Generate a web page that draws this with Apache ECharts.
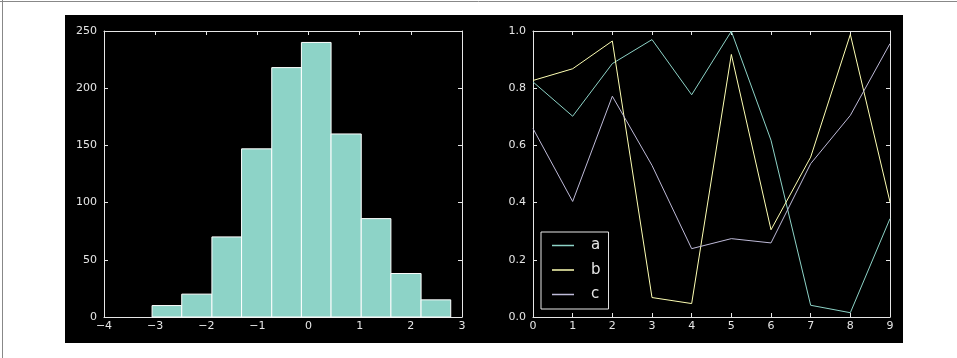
<!DOCTYPE html>
<html>
<head>
<meta charset="utf-8">
<script src="https://cdn.jsdelivr.net/npm/echarts@6/dist/echarts.min.js"></script>
<style>
html,body{margin:0;padding:0;background:#fff;}
#c{width:957px;height:358px;}
</style>
</head>
<body>
<div id="c"></div>
<script>
// Histogram data
var binEdges = [-3.06, -2.48, -1.89, -1.31, -0.72, -0.14, 0.44, 1.03, 1.61, 2.20, 2.78];
var binCounts = [10, 20, 70, 147, 218, 240, 160, 86, 38, 15];

// Line data
var lineX = [0, 1, 2, 3, 4, 5, 6, 7, 8, 9];
var seriesA = [0.822, 0.702, 0.886, 0.970, 0.777, 0.999, 0.618, 0.041, 0.015, 0.344];
var seriesB = [0.827, 0.868, 0.965, 0.068, 0.047, 0.918, 0.305, 0.559, 0.988, 0.402];
var seriesC = [0.659, 0.404, 0.772, 0.530, 0.239, 0.274, 0.259, 0.536, 0.705, 0.956];
var seriesNames = ['a', 'b', 'c'];

var FG = '#e6e6e6';
var FONT = 'DejaVu Sans';
function minus(v){ return String(v).replace('-', '\u2212'); }

var histData = binCounts.map(function(c, i){ return [binEdges[i], binEdges[i+1], c]; });
function pairs(arr){ return arr.map(function(v, i){ return [lineX[i], v]; }); }

function mkX(gi, pos, show, min, max, interval, fmt){
  return {
    type: 'value', gridIndex: gi, position: pos, min: min, max: max, interval: interval,
    axisLine: {show: true, onZero: false, lineStyle: {color: FG, width: 1}},
    axisTick: {show: true, inside: true, length: 4, lineStyle: {color: FG}},
    axisLabel: {show: show, color: FG, fontFamily: FONT, fontSize: 11, margin: 4, formatter: fmt},
    splitLine: {show: false}
  };
}
function mkY(gi, pos, show, min, max, interval, fmt){
  return {
    type: 'value', gridIndex: gi, position: pos, min: min, max: max, interval: interval,
    axisLine: {show: true, onZero: false, lineStyle: {color: FG, width: 1}},
    axisTick: {show: true, inside: true, length: 4, lineStyle: {color: FG}},
    axisLabel: {show: show, color: FG, fontFamily: FONT, fontSize: 11, margin: 7, formatter: fmt},
    splitLine: {show: false}
  };
}

var chart = echarts.init(document.getElementById('c'), null, {renderer: 'canvas'});
var option = {
  backgroundColor: '#ffffff',
  animation: false,
  graphic: [
    {type: 'rect', z: -100, silent: true, shape: {x: 65, y: 15, width: 838, height: 328}, style: {fill: '#000'}},
    {type: 'line', z: -100, silent: true, shape: {x1: 0, y1: 1.5, x2: 957, y2: 1.5}, style: {stroke: '#888', lineWidth: 1}},
    {type: 'line', z: -100, silent: true, shape: {x1: 2.5, y1: 0, x2: 2.5, y2: 358}, style: {stroke: '#888', lineWidth: 1}}
  ],
  grid: [
    {left: 104, top: 31, width: 358, height: 286},
    {left: 533, top: 31, width: 357, height: 286}
  ],
  xAxis: [
    mkX(0, 'bottom', true, -4, 3, 1, function(v){ return minus(v); }),
    mkX(0, 'top', false, -4, 3, 1),
    mkX(1, 'bottom', true, 0, 9, 1, function(v){ return String(v); }),
    mkX(1, 'top', false, 0, 9, 1)
  ],
  yAxis: [
    mkY(0, 'left', true, 0, 250, 50, function(v){ return String(v); }),
    mkY(0, 'right', false, 0, 250, 50),
    mkY(1, 'left', true, 0, 1, 0.2, function(v){ return v.toFixed(1); }),
    mkY(1, 'right', false, 0, 1, 0.2)
  ],
  legend: {
    orient: 'vertical', left: 541, top: 232,
    padding: [6, 8, 7, 11], itemGap: 9.5,
    backgroundColor: '#000', borderColor: FG, borderWidth: 1,
    itemWidth: 22, itemHeight: 1.5, icon: 'rect',
    textStyle: {color: FG, fontFamily: FONT, fontSize: 15, lineHeight: 15, padding: [0, 0, 0, 12]},
    data: seriesNames
  },
  series: [
    {
      type: 'custom', xAxisIndex: 0, yAxisIndex: 0,
      encode: {x: [0, 1], y: 2},
      data: histData,
      renderItem: function(params, api){
        var p0 = api.coord([api.value(0), api.value(2)]);
        var p1 = api.coord([api.value(1), 0]);
        return {type: 'rect', shape: {x: p0[0], y: p0[1], width: p1[0] - p0[0], height: p1[1] - p0[1]},
          style: {fill: '#8dd3c7', stroke: '#ffffff', lineWidth: 1}};
      }
    },
    {name: seriesNames[0], type: 'line', xAxisIndex: 2, yAxisIndex: 2, data: pairs(seriesA), showSymbol: false, symbol: 'none', lineStyle: {color: '#8dd3c7', width: 1}, itemStyle: {color: '#8dd3c7'}},
    {name: seriesNames[1], type: 'line', xAxisIndex: 2, yAxisIndex: 2, data: pairs(seriesB), showSymbol: false, symbol: 'none', lineStyle: {color: '#feffb3', width: 1}, itemStyle: {color: '#feffb3'}},
    {name: seriesNames[2], type: 'line', xAxisIndex: 2, yAxisIndex: 2, data: pairs(seriesC), showSymbol: false, symbol: 'none', lineStyle: {color: '#bfbbd9', width: 1}, itemStyle: {color: '#bfbbd9'}}
  ]
};
chart.setOption(option);
</script>
</body>
</html>
